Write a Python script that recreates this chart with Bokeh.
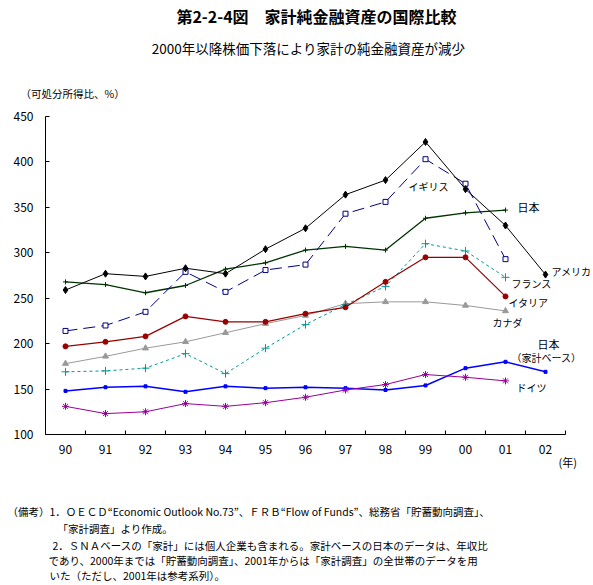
from bokeh.plotting import figure
from bokeh.models import Range1d, FixedTicker, Label
from bokeh.embed import file_html
from bokeh.resources import INLINE

# ---------------- data ----------------
years = ["90", "91", "92", "93", "94", "95", "96", "97", "98", "99", "00", "01", "02"]
usa = [259, 277, 274, 283, 277, 304, 327, 364, 380, 422, 370, 330, 276]
uk = [214, 220, 235, 279, 257, 281, 287, 343, 356, 403, 376, 293]
japan = [268, 265, 256, 264, 282, 289, 303, 307, 303, 338, 344, 347]
france = [169, 170, 173, 189, 167, 195, 221, 243, 263, 310, 302, 273]
italy = [197, 202, 208, 230, 224, 224, 233, 240, 268, 295, 295, 252]
canada = [178, 186, 195, 202, 212, 222, 231, 244, 246, 246, 242, 236]
germany = [131, 123, 125, 134, 131, 135, 141, 149, 155, 166, 163, 159]
japan_hh = [148, 152, 153, 147, 153, 151, 152, 151, 149, 154, 173, 180, 169]
y_ticks = [100, 150, 200, 250, 300, 350, 400, 450]

FONT = "Noto Sans CJK JP"

# geometry in picture pixels
W, H = 593, 585
AX_L, AX_R, AX_T, AX_B = 45, 565, 116, 434   # plot area (450 at top, 100 at bottom)
Y0, Y1 = 100, 450
N = len(years)
XS = N / (AX_R - AX_L)          # data units per pixel (x)
YS = (Y1 - Y0) / (AX_B - AX_T)  # data units per pixel (y)

def fx(px):
    return (px - AX_L) * XS

def fy(py):
    return Y0 + (AX_B - py) * YS

p = figure(width=W, height=H, min_border=0,
           min_border_left=0, min_border_right=0, min_border_top=0, min_border_bottom=0,
           x_range=Range1d(fx(0), fx(W)), y_range=Range1d(fy(H), fy(0)),
           output_backend="svg", toolbar_location=None)
p.outline_line_color = None
p.grid.visible = False
p.background_fill_color = "white"
p.border_fill_color = "white"

xs = [i + 0.5 for i in range(N)]

# axes drawn at fixed locations inside the canvas
p.xaxis.fixed_location = Y0
p.xaxis.bounds = (0, N)
p.xaxis.ticker = FixedTicker(ticks=xs, minor_ticks=list(range(N + 1)))
p.xaxis.major_label_overrides = {x: y for x, y in zip(xs, years)}
p.xaxis.major_tick_in = 0
p.xaxis.major_tick_out = 0
p.xaxis.minor_tick_in = 4
p.xaxis.minor_tick_out = 0
p.xaxis.major_label_standoff = 10
p.yaxis.fixed_location = 0
p.yaxis.bounds = (Y0, Y1)
p.yaxis.ticker = FixedTicker(ticks=y_ticks)
p.yaxis.major_tick_in = 4
p.yaxis.major_tick_out = 0
p.yaxis.major_label_standoff = 12
for ax in (p.xaxis, p.yaxis):
    ax.axis_line_color = "black"
    ax.major_tick_line_color = "black"
    ax.minor_tick_line_color = "black"
    ax.major_label_text_font = FONT
    ax.major_label_text_font_size = "12px"
    ax.major_label_text_color = "black"
p.yaxis.minor_tick_line_color = None

# series
def series(vals, color, marker, size, dash="solid", width=1.0, fill=None):
    x = xs[:len(vals)]
    p.line(x, vals, line_color=color, line_width=width, line_dash=dash)
    p.scatter(x, vals, marker=marker, size=size, line_color=color,
              fill_color=fill if fill else color, line_width=1)

series(canada, "#999999", "triangle", 6)
series(japan_hh, "#0000FF", "square", 3, width=1.5)
series(germany, "#990099", "asterisk", 7)
series(france, "#009999", "cross", 8, dash="3 3")
series(italy, "#990000", "circle", 5, width=1.2)
series(japan, "#003300", "cross", 5, width=1.3)
series(uk, "#000080", "square", 5, dash="12 6", fill="white")
series(usa, "#000000", "diamond", 7)

def txt(s, px, py, size="11px", align="left", bold=False):
    p.add_layout(Label(x=fx(px), y=fy(py), text=s, text_font=FONT,
                       text_font_size=size, text_align=align,
                       text_baseline="middle", text_color="black",
                       text_font_style="bold" if bold else "normal"))

txt("第2-2-4図　家計純金融資産の国際比較", 316, 15, size="16px", align="center", bold=True)
txt("2000年以降株価下落により家計の純金融資産が減少", 308, 47, size="13.5px", align="center")
txt("（可処分所得比、%）", 20, 93, size="10.5px")

txt("イギリス", 408, 186, size="10px")
txt("日本", 517, 206)
txt("アメリカ", 551, 271, size="10px")
txt("フランス", 511, 283, size="10px")
txt("イタリア", 508, 302, size="10px")
txt("カナダ", 492, 322, size="10px")
txt("日本", 537, 343)
txt("（家計ベース）", 511, 357, size="10px")
txt("ドイツ", 516, 387, size="10px")
txt("(年)", 558, 461)

notes = [
    ("（備考）1．ＯＥＣＤ“Economic Outlook No.73”、ＦＲＢ“Flow of Funds”、総務省「貯蓄動向調査」、", 7, 511),
    ("「家計調査」より作成。", 57, 528),
    ("2．ＳＮＡベースの「家計」には個人企業も含まれる。家計ベースの日本のデータは、年収比", 52, 545),
    ("であり、2000年までは「貯蓄動向調査」、2001年からは「家計調査」の全世帯のデータを用", 48, 560),
    ("いた（ただし、2001年は参考系列）。", 49, 575),
]
for s, px, py in notes:
    txt(s, px, py, size="10.5px")

open("out.html", "w").write(file_html(p, INLINE))
